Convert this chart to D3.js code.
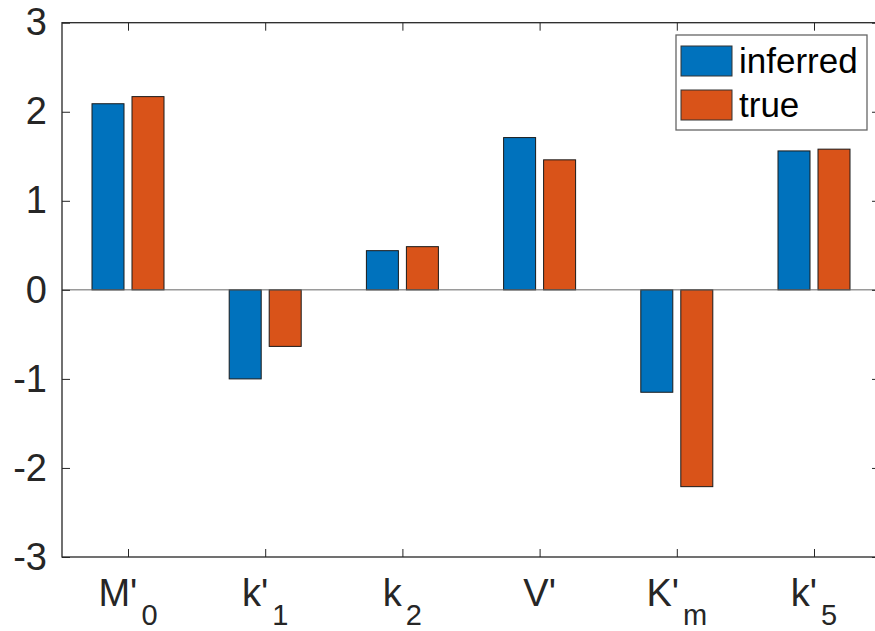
<!DOCTYPE html>
<html>
<head>
<meta charset="utf-8">
<script src="https://cdn.jsdelivr.net/npm/d3@7"></script>
<style>
  body { margin: 0; background: #fff; }
  svg { display: block; font-family: "Liberation Sans", Arial, Helvetica, sans-serif; }
</style>
</head>
<body>
<div id="graf"></div>
<script>
// datos
var categories = ["M'0", "k'1", "k2", "V'", "K'm", "k'5"]
var labelMain = ["M'", "k'", "k", "V'", "K'", "k'"]
var labelSub = ["0", "1", "2", "", "m", "5"]
var series = ["inferred", "true"]
var inferred = [2.09, -1.00, 0.44, 1.71, -1.15, 1.56]
var trueVals = [2.17, -0.635, 0.485, 1.46, -2.21, 1.58]
var yTicks = [-3, -2, -1, 0, 1, 2, 3]

var colors = { inferred: "#0072BD", "true": "#D95319" }

var W = 875, H = 631
var mLeft = 62, mRight = 880, mTop = 22.7, mBottom = 557

var svg = d3.select('#graf')
            .append('svg')
            .attr('width', W)
            .attr('height', H)

var x = d3.scalePoint()
          .domain(categories)
          .range([128, 814])

var xs = d3.scaleBand()
           .domain(series)
           .range([-36, 36])
           .paddingInner(0.2)

var y = d3.scaleLinear()
          .domain([-3, 3])
          .range([mBottom, mTop])

var rows = categories.map((c, i) => ({ cat: c, inferred: inferred[i], "true": trueVals[i] }))

var axisColor = "#262626"

// barras
var g = svg.append("g")
rows.forEach(r => {
  series.forEach(s => {
    var v = r[s]
    g.append("rect")
      .attr("x", x(r.cat) + xs(s))
      .attr("width", xs.bandwidth())
      .attr("y", y(Math.max(0, v)))
      .attr("height", Math.abs(y(v) - y(0)))
      .attr("fill", colors[s])
      .attr("stroke", "#1a1a1a")
      .attr("stroke-width", 1)
  })
})

// linea base en cero
svg.append("line")
  .attr("x1", mLeft).attr("x2", mRight)
  .attr("y1", y(0)).attr("y2", y(0))
  .attr("stroke", "#666")
  .attr("stroke-width", 1)

// ejes
var yAxis = svg.append("g")
  .attr("transform", "translate(" + mLeft + ",0)")
  .call(d3.axisLeft(y).tickValues(yTicks).tickSizeInner(-8).tickSizeOuter(0).tickPadding(15).tickFormat(d => String(d)))

var yAxisR = svg.append("g")
  .attr("transform", "translate(" + mRight + ",0)")
  .call(d3.axisRight(y).tickValues(yTicks).tickSizeInner(-8).tickSizeOuter(0).tickFormat(""))

var xAxisT = svg.append("g")
  .attr("transform", "translate(0," + mTop + ")")
  .call(d3.axisTop(x).tickSizeInner(-8).tickSizeOuter(0).tickFormat(""))

var xAxis = svg.append("g")
  .attr("transform", "translate(0," + mBottom + ")")
  .call(d3.axisBottom(x).tickSizeInner(-8).tickSizeOuter(0).tickFormat(""))

svg.selectAll(".domain").remove()
svg.selectAll(".tick line").attr("stroke", axisColor).attr("stroke-width", 1)

// caja del grafico
svg.append("rect")
  .attr("x", mLeft).attr("y", mTop)
  .attr("width", mRight - mLeft).attr("height", mBottom - mTop)
  .attr("fill", "none")
  .attr("stroke", axisColor)
  .attr("stroke-width", 1.3)

yAxis.selectAll("text")
  .attr("font-size", 38)
  .attr("fill", axisColor)
  .style("font-family", "Liberation Sans, Arial, sans-serif")

// etiquetas con subindice
categories.forEach((c, i) => {
  var t = svg.append("text")
    .attr("x", x(c))
    .attr("y", mBottom + 49)
    .attr("text-anchor", "middle")
    .attr("fill", axisColor)
    .attr("font-size", 38)
  t.append("tspan").text(labelMain[i])
  if (labelSub[i]) {
    t.append("tspan")
      .attr("font-size", 29)
      .attr("dx", 4)
      .attr("dy", 19)
      .text(labelSub[i])
  }
})

// leyenda
var leg = svg.append("g").attr("transform", "translate(676,35)")
leg.append("rect")
  .attr("width", 191).attr("height", 95)
  .attr("fill", "#fff")
  .attr("stroke", "#666")
  .attr("stroke-width", 1.3)
series.forEach((s, i) => {
  var row = leg.append("g").attr("transform", "translate(5," + (11 + i * 44) + ")")
  row.append("rect")
    .attr("width", 51).attr("height", 30)
    .attr("fill", colors[s])
    .attr("stroke", "#333")
    .attr("stroke-width", 1)
  row.append("text")
    .attr("x", 58)
    .attr("y", 27)
    .attr("font-size", 35)
    .attr("fill", "#000")
    .text(s)
})
</script>
</body>
</html>
